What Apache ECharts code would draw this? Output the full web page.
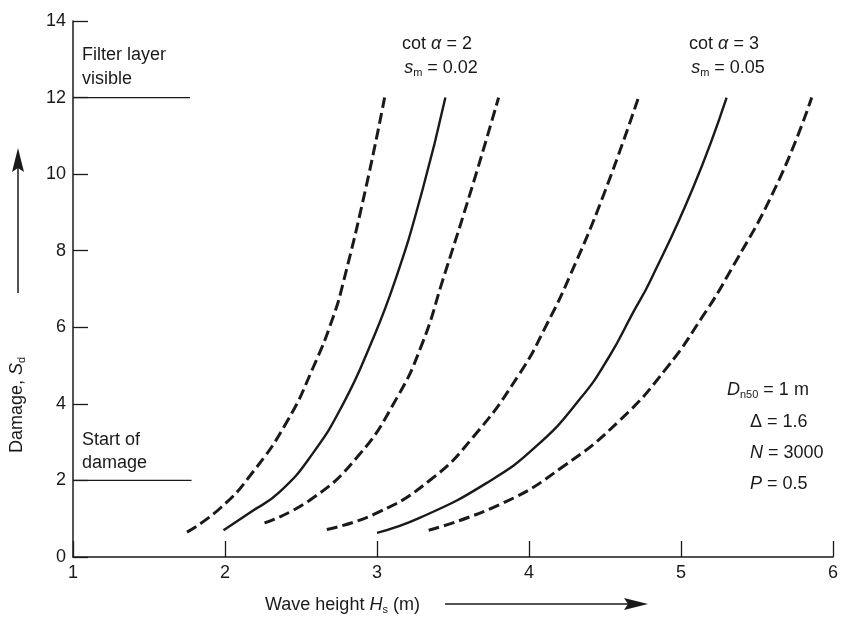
<!DOCTYPE html>
<html>
<head>
<meta charset="utf-8">
<script src="https://cdn.jsdelivr.net/npm/echarts@6/dist/echarts.min.js"></script>
<style>html,body{margin:0;padding:0;background:#fff;}#c{width:842px;height:622px;}</style>
</head>
<body>
<div id="c"></div>
<script>
// ---- data (Hs [m], Sd) ----
const xTicks = [1, 2, 3, 4, 5, 6];
const yTicks = [0, 2, 4, 6, 8, 10, 12, 14];
// cot a = 2, s_m = 0.02 group
const curveA1 = [[1.75,0.65],[1.97,1.28],[2.18,2.2],[2.41,3.55],[2.58,4.95],[2.71,6.25],[2.78,7.2],[2.93,9.7],[3.05,12]];
const curveA2 = [[1.99,0.7],[2.16,1.15],[2.36,1.7],[2.58,2.72],[2.78,4.02],[2.95,5.48],[3.12,7.23],[3.30,9.6],[3.45,12]];
const curveA3 = [[2.26,0.89],[2.56,1.49],[2.87,2.61],[3.13,4.15],[3.30,5.6],[3.43,7.2],[3.63,9.72],[3.80,12]];
// cot a = 3, s_m = 0.05 group
const curveB1 = [[2.67,0.72],[3.0,1.15],[3.35,2.01],[3.63,3.12],[3.94,4.8],[4.12,6.1],[4.27,7.35],[4.49,9.45],[4.72,12]];
const curveB2 = [[3.0,0.63],[3.28,1.02],[3.72,1.93],[4.05,2.9],[4.34,4.15],[4.53,5.25],[4.68,6.35],[4.80,7.23],[5.08,9.65],[5.30,12]];
const curveB3 = [[3.34,0.70],[3.83,1.41],[4.22,2.35],[4.60,3.58],[4.91,4.96],[5.14,6.27],[5.30,7.3],[5.63,9.72],[5.86,12]];
// reference levels
const filterLine = [[1,12],[1.77,12]];
const startLine = [[1,2],[1.78,2]];

const FONT = 'Liberation Sans, Arial, Helvetica, sans-serif';
const INK = '#1a1a1a';
const chart = echarts.init(document.getElementById('c'), null, {renderer:'canvas'});

function curve(data, dashed){
  return {type:'line', data:data, smooth:0.5, showSymbol:false, silent:true,
    lineStyle:{color:INK, width: dashed?3:2.4, type: dashed?[11,5]:'solid', cap:'butt'}};
}
function refLine(data){
  return {type:'line', data:data, showSymbol:false, silent:true, lineStyle:{color:INK, width:1.3}};
}
const rich = {
  n:{fontFamily:FONT, fontSize:18, color:INK},
  i:{fontFamily:FONT, fontSize:18, color:INK, fontStyle:'italic'},
  sub:{fontFamily:FONT, fontSize:11, color:INK, padding:[9,0,0,0]}
};
function txt(x,y,text,align,extra){
  return Object.assign({type:'text', x:x, y:y, silent:true,
    style:{text:text, rich:rich, font:'18px '+FONT, fill:INK, align:align||'left', verticalAlign:'middle'}}, extra||{});
}

chart.setOption({
  animation:false,
  backgroundColor:'#fff',
  grid:{left:73, right:9, top:21, bottom:65},
  xAxis:{type:'value', min:1, max:6, interval:1,
    axisLine:{lineStyle:{color:INK, width:1.5}},
    axisTick:{inside:true, length:16, lineStyle:{color:INK, width:1.3}},
    splitLine:{show:false},
    axisLabel:{fontFamily:FONT, fontSize:18, color:INK, margin:7,
      formatter:function(v){return xTicks.indexOf(v)>=0?String(v):'';}}},
  yAxis:{type:'value', min:0, max:14, interval:2,
    axisLine:{show:true, lineStyle:{color:INK, width:1.5}},
    axisTick:{show:true, inside:true, length:15, lineStyle:{color:INK, width:1.3}},
    splitLine:{show:false},
    axisLabel:{fontFamily:FONT, fontSize:18, color:INK, margin:7,
      formatter:function(v){return yTicks.indexOf(v)>=0?String(v):'';}}},
  series:[
    curve(curveA1,true), curve(curveA2,false), curve(curveA3,true),
    curve(curveB1,true), curve(curveB2,false), curve(curveB3,true),
    refLine(filterLine), refLine(startLine)
  ],
  graphic:[
    txt(82,55,'Filter layer'), txt(82,79,'visible'),
    txt(82,440,'Start of'), txt(82,463,'damage'),
    txt(437,44,'{n|cot }{i|α}{n| = 2}','center'),
    txt(441,68,'{i|s}{sub|m}{n| = 0.02}','center'),
    txt(724,44,'{n|cot }{i|α}{n| = 3}','center'),
    txt(728,68,'{i|s}{sub|m}{n| = 0.05}','center'),
    txt(727,390,'{i|D}{sub|n50}{n| = 1 m}'),
    txt(750,422,'{n|Δ = 1.6}'),
    txt(750,453,'{i|N}{n| = 3000}'),
    txt(750,484,'{i|P}{n| = 0.5}'),
    // x axis title + arrow
    txt(265,605,'{n|Wave height }{i|H}{sub|s}{n| (m)}'),
    {type:'line', silent:true, shape:{x1:445,y1:604,x2:630,y2:604}, style:{stroke:INK, lineWidth:1.5}},
    {type:'polygon', silent:true, shape:{points:[[648,604],[624,598],[628,604],[624,610]]}, style:{fill:INK}},
    // y axis title + arrow
    txt(17,453,'{n|Damage, }{i|S}{sub|d}','left',{rotation:Math.PI/2}),
    {type:'line', silent:true, shape:{x1:18,y1:293,x2:18,y2:165}, style:{stroke:INK, lineWidth:1.5}},
    {type:'polygon', silent:true, shape:{points:[[18,148],[12,172],[18,168],[24,172]]}, style:{fill:INK}}
  ]
});
</script>
</body>
</html>
